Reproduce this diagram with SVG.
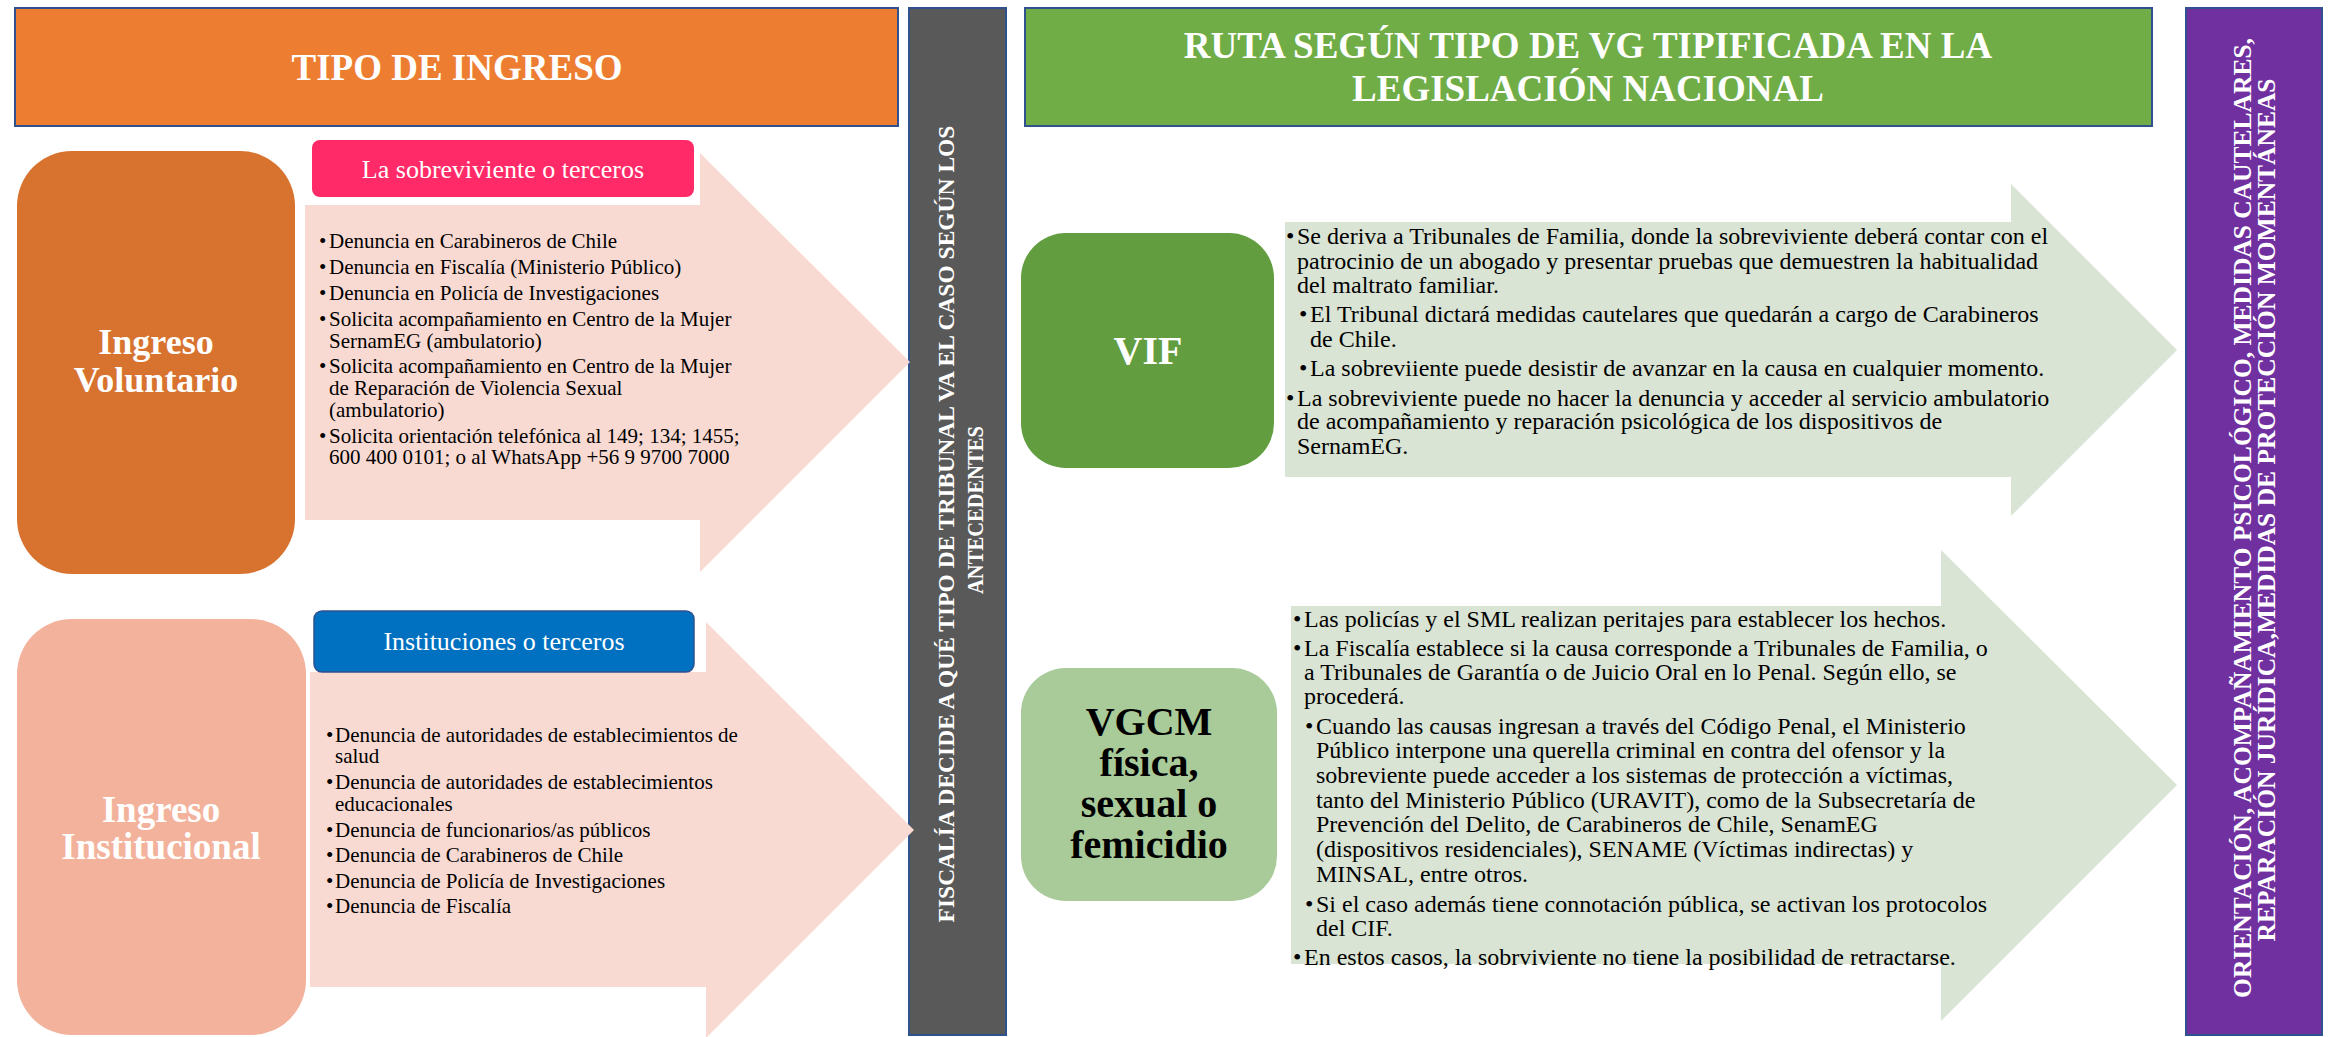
<svg xmlns="http://www.w3.org/2000/svg" width="2328" height="1037" viewBox="0 0 2328 1037">
<style>
text{font-family:'Liberation Serif','Times New Roman',serif;}
.hdr{font-size:37px;font-weight:bold;fill:#fff;text-anchor:middle;}
.big{font-weight:bold;text-anchor:middle;}
.lab{font-size:26px;fill:#fff;text-anchor:middle;}
.s21{font-size:21px;fill:#000;}
.s24{font-size:24px;fill:#000;}
.vert{font-weight:bold;fill:#fff;text-anchor:middle;}
.frame{stroke:#2F528F;stroke-width:2;}
</style>
<rect x="0" y="0" width="2328" height="1037" fill="#fff"/>

<g id="header-tipo-ingreso">
<rect class="frame" x="15" y="8" width="883" height="118" fill="#ED7D31"/>
<text class="hdr" x="457" y="80">TIPO DE INGRESO</text>
</g>

<g id="header-ruta">
<rect class="frame" x="1025" y="8" width="1127" height="118" fill="#70AD47"/>
<text class="hdr" x="1588" y="58">RUTA SEGÚN TIPO DE VG TIPIFICADA EN LA</text>
<text class="hdr" x="1588" y="101">LEGISLACIÓN NACIONAL</text>
</g>

<g id="bar-fiscalia">
<rect class="frame" x="909" y="8" width="97" height="1027" fill="#595959"/>
<text class="vert" font-size="23.5" transform="translate(954 524) rotate(-90)">FISCALÍA DECIDE A QUÉ TIPO DE TRIBUNAL VA EL CASO SEGÚN LOS</text>
<text class="vert" font-size="23.5" textLength="168" lengthAdjust="spacingAndGlyphs" transform="translate(983 510) rotate(-90)">ANTECEDENTES</text>
</g>

<g id="bar-orientacion">
<rect class="frame" x="2186" y="8" width="136" height="1027" fill="#7030A0"/>
<text class="vert" font-size="25.5" transform="translate(2251 518) rotate(-90)">ORIENTACIÓN, ACOMPAÑAMIENTO PSICOLÓGICO, MEDIDAS CAUTELARES,</text>
<text class="vert" font-size="25.5" transform="translate(2275 510) rotate(-90)">REPARACIÓN JURÍDICA,MEDIDAS DE PROTECCIÓN MOMENTÁNEAS</text>
</g>

<g id="connectors">
<polygon points="305,205 700,205 700,153 910,362 700,572 700,520 305,520" fill="#F8DAD2"/>
<polygon points="310,672 706,672 706,622 914,830 706,1038 706,987 310,987" fill="#F8DAD2"/>
<polygon points="1285,222 2011,222 2011,184 2177,350 2011,516 2011,477 1285,477" fill="#DAE4D4"/>
<polygon points="1291,606 1941,606 1941,550 2177,785 1941,1021 1941,964 1291,964" fill="#DAE4D4"/>
</g>

<g id="node-ingreso-voluntario">
<rect x="17" y="151" width="278" height="423" rx="55" ry="55" fill="#D8722F"/>
<text class="big" font-size="36" fill="#fff" x="156" y="354">Ingreso</text>
<text class="big" font-size="36" fill="#fff" x="156" y="392">Voluntario</text>
</g>

<g id="node-ingreso-institucional">
<rect x="17" y="619" width="289" height="416" rx="55" ry="55" fill="#F3B29B"/>
<text class="big" font-size="37" fill="#fff" x="161" y="822">Ingreso</text>
<text class="big" font-size="37" fill="#fff" x="161" y="859">Institucional</text>
</g>

<g id="label-sobreviviente">
<rect x="312" y="140" width="382" height="57" rx="8" ry="8" fill="#FF2A67"/>
<text class="lab" x="503" y="178">La sobreviviente o terceros</text>
</g>

<g id="label-instituciones">
<rect x="314" y="611" width="380" height="61" rx="8" ry="8" fill="#0070C0" stroke="#2F528F" stroke-width="1.5"/>
<text class="lab" x="504" y="650">Instituciones o terceros</text>
</g>

<g id="list-voluntario">
<text class="s21" x="319" y="247.5">•</text><text class="s21" x="329" y="247.5">Denuncia en Carabineros de Chile</text>
<text class="s21" x="319" y="274">•</text><text class="s21" x="329" y="274">Denuncia en Fiscalía (Ministerio Público)</text>
<text class="s21" x="319" y="300">•</text><text class="s21" x="329" y="300">Denuncia en Policía de Investigaciones</text>
<text class="s21" x="319" y="326">•</text><text class="s21" x="329" y="326">Solicita acompañamiento en Centro de la Mujer</text>
<text class="s21" x="329" y="348">SernamEG (ambulatorio)</text>
<text class="s21" x="319" y="373">•</text><text class="s21" x="329" y="373">Solicita acompañamiento en Centro de la Mujer</text>
<text class="s21" x="329" y="395">de Reparación de Violencia Sexual</text>
<text class="s21" x="329" y="417">(ambulatorio)</text>
<text class="s21" x="319" y="443">•</text><text class="s21" x="329" y="443">Solicita orientación telefónica al 149; 134; 1455;</text>
<text class="s21" x="329" y="464">600 400 0101; o al WhatsApp +56 9 9700 7000</text>
</g>

<g id="list-institucional">
<text class="s21" x="326" y="741.5">•</text><text class="s21" x="335" y="741.5">Denuncia de autoridades de establecimientos de</text>
<text class="s21" x="335" y="762.5">salud</text>
<text class="s21" x="326" y="789">•</text><text class="s21" x="335" y="789">Denuncia de autoridades de establecimientos</text>
<text class="s21" x="335" y="810.5">educacionales</text>
<text class="s21" x="326" y="836.5">•</text><text class="s21" x="335" y="836.5">Denuncia de funcionarios/as públicos</text>
<text class="s21" x="326" y="862">•</text><text class="s21" x="335" y="862">Denuncia de Carabineros de Chile</text>
<text class="s21" x="326" y="887.5">•</text><text class="s21" x="335" y="887.5">Denuncia de Policía de Investigaciones</text>
<text class="s21" x="326" y="913">•</text><text class="s21" x="335" y="913">Denuncia de Fiscalía</text>
</g>

<g id="node-vif">
<rect x="1021" y="233" width="253" height="235" rx="45" ry="45" fill="#629D3F"/>
<text class="big" font-size="40" fill="#fff" x="1148" y="364">VIF</text>
</g>

<g id="node-vgcm">
<rect x="1021" y="668" width="256" height="233" rx="45" ry="45" fill="#A9CA99"/>
<text class="big" font-size="40" fill="#000" x="1149" y="735">VGCM</text>
<text class="big" font-size="40" fill="#000" x="1149" y="776">física,</text>
<text class="big" font-size="40" fill="#000" x="1149" y="817">sexual o</text>
<text class="big" font-size="40" fill="#000" x="1149" y="858">femicidio</text>
</g>

<g id="list-vif">
<text class="s24" x="1286" y="244">•</text><text class="s24" x="1297" y="244">Se deriva a Tribunales de Familia, donde la sobreviviente deberá contar con el</text>
<text class="s24" x="1297" y="269">patrocinio de un abogado y presentar pruebas que demuestren la habitualidad</text>
<text class="s24" x="1297" y="293">del maltrato familiar.</text>
<text class="s24" x="1299" y="322">•</text><text class="s24" x="1310" y="322">El Tribunal dictará medidas cautelares que quedarán a cargo de Carabineros</text>
<text class="s24" x="1310" y="347">de Chile.</text>
<text class="s24" x="1299" y="375.5">•</text><text class="s24" x="1310" y="375.5">La sobreviiente puede desistir de avanzar en la causa en cualquier momento.</text>
<text class="s24" x="1286" y="405.5">•</text><text class="s24" x="1297" y="405.5">La sobreviviente puede no hacer la denuncia y acceder al servicio ambulatorio</text>
<text class="s24" x="1297" y="429">de acompañamiento y reparación psicológica de los dispositivos de</text>
<text class="s24" x="1297" y="453.5">SernamEG.</text>
</g>

<g id="list-vgcm">
<text class="s24" x="1293" y="626.5">•</text><text class="s24" x="1304" y="626.5">Las policías y el SML realizan peritajes para establecer los hechos.</text>
<text class="s24" x="1293" y="655.5">•</text><text class="s24" x="1304" y="655.5">La Fiscalía establece si la causa corresponde a Tribunales de Familia, o</text>
<text class="s24" x="1304" y="679.5">a Tribunales de Garantía o de Juicio Oral en lo Penal. Según ello, se</text>
<text class="s24" x="1304" y="703.5">procederá.</text>
<text class="s24" x="1305" y="734">•</text><text class="s24" x="1316" y="734">Cuando las causas ingresan a través del Código Penal, el Ministerio</text>
<text class="s24" x="1316" y="757.5">Público interpone una querella criminal en contra del ofensor y la</text>
<text class="s24" x="1316" y="782.5">sobreviente puede acceder a los sistemas de protección a víctimas,</text>
<text class="s24" x="1316" y="808">tanto del Ministerio Público (URAVIT), como de la Subsecretaría de</text>
<text class="s24" x="1316" y="832">Prevención del Delito, de Carabineros de Chile, SenamEG</text>
<text class="s24" x="1316" y="857">(dispositivos residenciales), SENAME (Víctimas indirectas) y</text>
<text class="s24" x="1316" y="882">MINSAL, entre otros.</text>
<text class="s24" x="1305" y="912">•</text><text class="s24" x="1316" y="912">Si el caso además tiene connotación pública, se activan los protocolos</text>
<text class="s24" x="1316" y="936">del CIF.</text>
<text class="s24" x="1293" y="964.5">•</text><text class="s24" x="1304" y="964.5">En estos casos, la sobrviviente no tiene la posibilidad de retractarse.</text>
</g>
</svg>
